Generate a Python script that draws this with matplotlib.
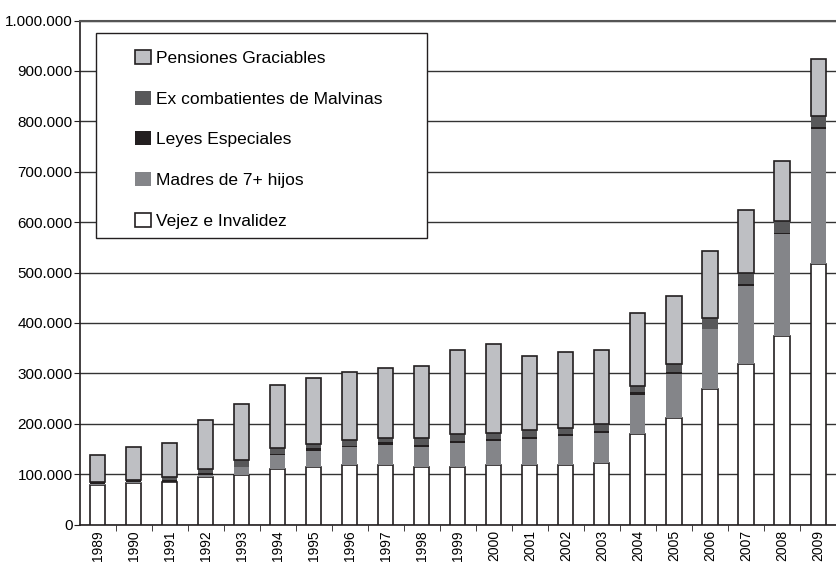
import numpy as np
import matplotlib
matplotlib.use('Agg')
import matplotlib.pyplot as plt
from matplotlib.patches import Rectangle
from matplotlib.ticker import FuncFormatter

plt.rcParams['font.family'] = ['Liberation Sans', 'DejaVu Sans']

# data, in thousands of pensions
years = [str(y) for y in range(1989, 2010)]
vejez = [79, 83, 84, 94, 99, 110.5, 114, 118, 118, 114, 114, 118, 118, 118.7, 122.2,
         179.1, 211.1, 268, 319.1, 374.6, 516.7]
madres = [1, 1, 1, 4, 15, 28, 32, 36, 40, 40, 48, 47, 52, 56, 59.7,
          78.2, 88.1, 119.4, 154.2, 202.6, 268]
leyes = [5, 5, 3, 4, 0, 1, 5, 1, 5, 4, 4, 4, 4, 4.3, 4.3,
         5, 4.3, 1, 4.3, 0.5, 4.3]
malvinas = [0, 0, 7, 9, 14, 13, 8.5, 12.7, 8, 12.7, 13, 13, 13, 12.8, 12.8,
            12.8, 15.6, 20.6, 20.6, 24.9, 21.3]
graciables = [52, 64, 66, 97, 112, 124.5, 130.5, 135.3, 140, 144.3, 168, 177, 148, 151.2, 148,
              143.9, 134.9, 133, 126.8, 118.4, 113.7]

series = [
    ('Vejez e Invalidez', vejez, '#ffffff', '#231f20'),
    ('Madres de 7+ hijos', madres, '#848589', 'none'),
    ('Leyes Especiales', leyes, '#231f20', 'none'),
    ('Ex combatientes de Malvinas', malvinas, '#58585a', 'none'),
    ('Pensiones Graciables', graciables, '#bebfc3', '#231f20'),
]

fig = plt.figure(figsize=(8.36, 5.62), dpi=100)
ax = fig.add_axes([0.0951, 0.0667, 0.905, 0.8968])

x = np.arange(len(years))
bottom = np.zeros(len(years))
handles = []
for name, vals, color, edge in series:
    v = np.array(vals) * 1000
    b = ax.bar(x, v, width=0.42, bottom=bottom, color=color, edgecolor=edge,
               linewidth=1.2, label=name, zorder=3)
    handles.append(b)
    bottom += v

ax.set_xlim(-0.5, 20.34)
ax.set_ylim(0, 1000000)
ax.set_yticks(np.arange(0, 1000001, 100000))
ax.yaxis.set_major_formatter(FuncFormatter(lambda v, p: f'{v:,.0f}'.replace(',', '.')))
ax.yaxis.grid(True, color='#333333', linewidth=1.0, zorder=0)
ax.set_axisbelow(True)

ax.set_xticks(x)
ax.set_xticklabels(years, rotation=90, fontsize=10)
ax.set_xticks(x + 0.5, minor=True)
ax.tick_params(axis='x', which='major', length=0, pad=4)
ax.tick_params(axis='x', which='minor', length=4, direction='out', color='#231f20')
ax.tick_params(axis='y', labelsize=11, length=4, pad=1, color='#231f20')

ax.spines['right'].set_visible(False)
ax.spines['top'].set_color('#555555')
ax.spines['top'].set_linewidth(1.5)
ax.spines['left'].set_color('#231f20')
ax.spines['bottom'].set_color('#231f20')
ax.spines['left'].set_linewidth(1.2)
ax.spines['bottom'].set_linewidth(1.2)

# legend frame
ax.add_patch(Rectangle((0.0218, 0.5679), 0.4379, 0.4067, transform=ax.transAxes,
                       facecolor='white', edgecolor='#231f20', linewidth=1.0, zorder=4))
leg = ax.legend(handles[::-1], [s[0] for s in series][::-1], loc='upper left',
                bbox_to_anchor=(0.0734, 0.9414), frameon=False, fontsize=12.5,
                borderpad=0, borderaxespad=0, labelspacing=1.42,
                handlelength=0.92, handleheight=0.86, handletextpad=0.3)
leg.set_zorder(5)

fig.savefig('out.png', dpi=100)
